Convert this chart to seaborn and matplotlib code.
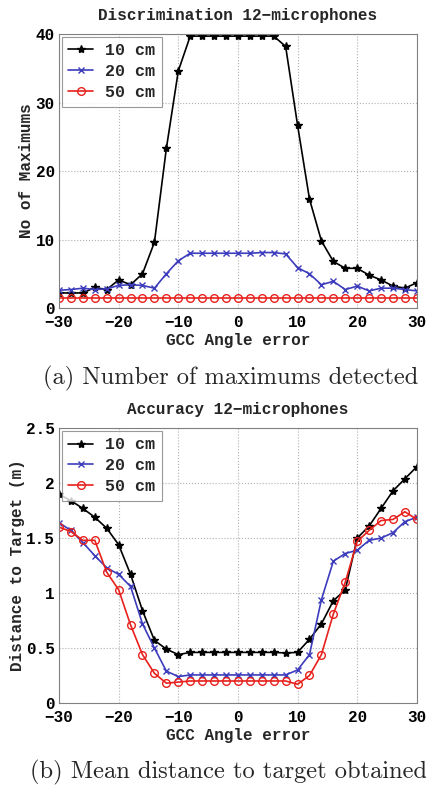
import pandas as pd
import matplotlib
matplotlib.use("Agg")
import matplotlib.pyplot as plt
import seaborn as sns

# === DATA ===
angles = list(range(-30, 31, 2))
series_names = ["10 cm", "20 cm", "50 cm"]

maxima_10 = [2.2, 2.2, 2.2, 3.0, 2.7, 4.1, 3.4, 5.0, 9.6, 23.3, 34.6, 39.7, 39.7, 39.7, 39.7, 39.7,
             39.7, 39.7, 39.7, 38.2, 26.7, 15.9, 9.8, 6.8, 5.8, 5.8, 4.8, 4.1, 3.2, 2.9, 3.7]
maxima_20 = [2.6, 2.7, 2.9, 2.7, 2.8, 3.3, 3.4, 3.3, 2.9, 5.0, 6.9, 8.0, 8.0, 8.0, 8.0, 8.0,
             8.0, 8.1, 8.1, 7.9, 5.9, 5.0, 3.4, 3.9, 2.7, 3.2, 2.5, 2.9, 2.9, 2.7, 2.5]
maxima_50 = [1.5] * 31

dist_10 = [1.90, 1.84, 1.77, 1.69, 1.59, 1.44, 1.17, 0.84, 0.57, 0.49, 0.44, 0.46, 0.46, 0.46, 0.46, 0.46,
           0.46, 0.46, 0.46, 0.455, 0.46, 0.58, 0.72, 0.93, 1.03, 1.50, 1.61, 1.77, 1.93, 2.04, 2.15]
dist_20 = [1.64, 1.57, 1.46, 1.34, 1.23, 1.17, 1.06, 0.72, 0.50, 0.29, 0.24, 0.255, 0.255, 0.255, 0.255, 0.255,
           0.255, 0.255, 0.255, 0.255, 0.30, 0.44, 0.94, 1.29, 1.36, 1.39, 1.48, 1.50, 1.55, 1.65, 1.69]
dist_50 = [1.60, 1.56, 1.48, 1.48, 1.19, 1.03, 0.71, 0.44, 0.27, 0.18, 0.19, 0.20, 0.20, 0.20, 0.20, 0.20,
           0.20, 0.20, 0.20, 0.20, 0.17, 0.25, 0.44, 0.81, 1.10, 1.47, 1.57, 1.66, 1.67, 1.74, 1.67]

# === STYLE ===
sns.set_style("whitegrid")
plt.rcParams["font.family"] = ["Liberation Mono", "DejaVu Sans Mono"]
plt.rcParams["font.weight"] = "bold"
plt.rcParams["axes.titleweight"] = "bold"
plt.rcParams["axes.labelweight"] = "bold"

colors = {"10 cm": "#000000", "20 cm": "#3c3cbc", "50 cm": "#e8201c"}
markers = {"10 cm": "*", "20 cm": "x", "50 cm": "o"}
msizes = {"10 cm": 6, "20 cm": 4.5, "50 cm": 5.5}

fig = plt.figure(figsize=(4.26, 7.85), dpi=100)
ax1 = fig.add_axes([0.1385, 0.6076, 0.840, 0.349])
ax2 = fig.add_axes([0.1385, 0.1045, 0.840, 0.350])


def draw(ax, values, title, ylabel, ylim, yticks, yticklabels):
    for name, vals in zip(series_names, values):
        df = pd.DataFrame({"angle": angles, "value": vals})
        face = "none" if name == "50 cm" else colors[name]
        sns.lineplot(data=df, x="angle", y="value", ax=ax, color=colors[name],
                     marker=markers[name], markersize=msizes[name], markeredgewidth=1.0,
                     markerfacecolor=face, markeredgecolor=colors[name],
                     linewidth=1.2, label=name)
    ax.set_xlim(-30, 30)
    ax.set_ylim(*ylim)
    ax.set_xticks([-30, -20, -10, 0, 10, 20, 30])
    ax.set_xticklabels(["\u221230", "\u221220", "\u221210", "0", "10", "20", "30"])
    ax.set_yticks(yticks)
    ax.set_yticklabels(yticklabels)
    ax.tick_params(axis="x", pad=5)
    ax.tick_params(direction="in", length=3, labelsize=11.5, colors="#000000")
    ax.tick_params(axis="y", pad=3)
    ax.grid(True, linestyle=":", color="#b0b0b0", linewidth=0.8)
    for sp in ax.spines.values():
        sp.set_color("#808080")
        sp.set_linewidth(0.8)
    ax.set_title(title, fontsize=11.5, pad=10)
    ax.set_xlabel("GCC Angle error", fontsize=11.5, labelpad=2)
    ax.set_ylabel(ylabel, fontsize=11.5, labelpad=1)
    leg = ax.legend(loc="upper left", fontsize=12, frameon=True, fancybox=False,
                    borderaxespad=0.15, handlelength=1.5, labelspacing=0.35,
                    borderpad=0.4, handletextpad=0.7)
    leg.get_frame().set_edgecolor("#808080")
    leg.get_frame().set_linewidth(0.8)


draw(ax1, [maxima_10, maxima_20, maxima_50], "Discrimination 12\u2212microphones", "No of Maximums",
     (0, 40), [0, 10, 20, 30, 40], ["0", "10", "20", "30", "40"])
draw(ax2, [dist_10, dist_20, dist_50], "Accuracy 12\u2212microphones", "Distance to Target (m)",
     (0, 2.5), [0, 0.5, 1, 1.5, 2, 2.5], ["0", "0.5", "1", "1.5", "2", "2.5"])

# === CAPTIONS ===
fig.text(43 / 426, 1 - 378 / 785, "(a) Number of maximums detected", family="cmr10",
         fontweight="normal", fontsize=17.6, ha="left", va="center")
fig.text(30 / 426, 1 - 772 / 785, "(b) Mean distance to target obtained", family="cmr10",
         fontweight="normal", fontsize=17.6, ha="left", va="center")

fig.savefig("out.png", dpi=100)
